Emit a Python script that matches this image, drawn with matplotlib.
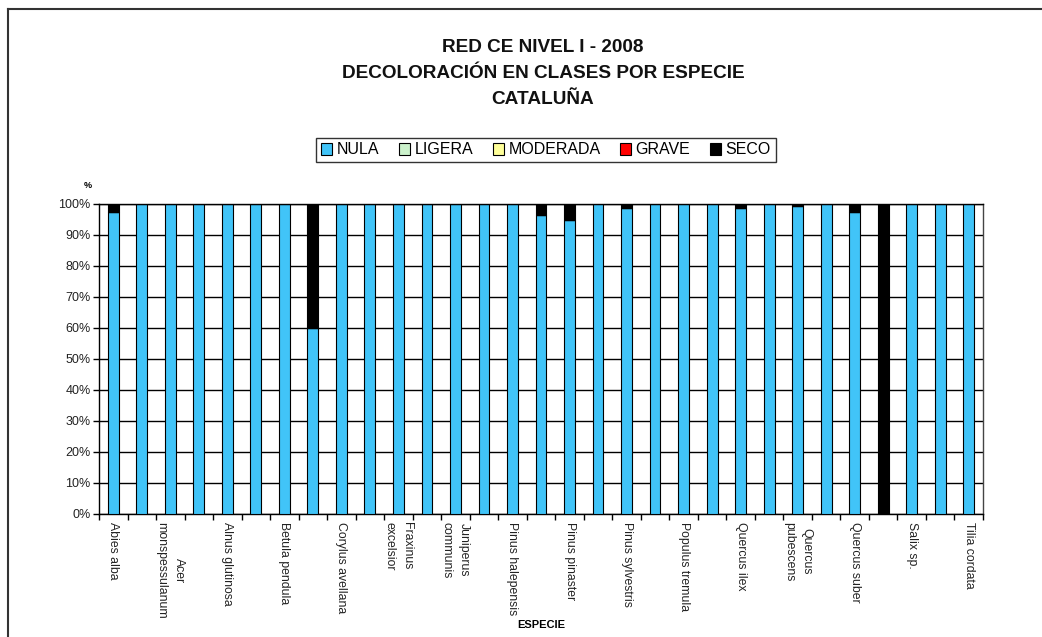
import matplotlib
matplotlib.use("Agg")
import matplotlib.pyplot as plt
import numpy as np
from matplotlib.lines import Line2D
from matplotlib.patches import Patch

plt.rcParams['font.family'] = ['Liberation Sans', 'DejaVu Sans']

# ---- data ----
categories = ["Abies alba", "", "Acer\nmonspessulanum", "", "Alnus glutinosa", "",
              "Betula pendula", "", "Corylus avellana", "", "Fraxinus\nexcelsior", "",
              "Juniperus\ncommunis", "", "Pinus halepensis", "", "Pinus pinaster", "",
              "Pinus sylvestris", "", "Populus tremula", "", "Quercus ilex", "",
              "Quercus\npubescens", "", "Quercus suber", "", "Salix sp.", "", "Tilia cordata"]
nula = [97.5, 100, 100, 100, 100, 100, 100, 60, 100, 100, 100, 100, 100, 100, 100, 96.3,
        94.9, 100, 98.6, 100, 100, 100, 98.6, 100, 99.4, 100, 97.5, 0, 100, 100, 100]
ligera = [0] * 31
moderada = [0] * 31
grave = [0] * 31
seco = [100 - v for v in nula]

series_names = ["NULA", "LIGERA", "MODERADA", "GRAVE", "SECO"]
series_colors = ["#41C4F8", "#CCF2CC", "#FFFF99", "#FF0000", "#000000"]
yticks = [0, 10, 20, 30, 40, 50, 60, 70, 80, 90, 100]
ytick_labels = [f"{v}%" for v in yticks]

title_lines = ["RED CE NIVEL I - 2008", "DECOLORACIÓN EN CLASES POR ESPECIE", "CATALUÑA"]

# ---- figure ----
W, H = 1042, 637
fig = plt.figure(figsize=(W / 100, H / 100), dpi=100)
fig.patch.set_facecolor("white")

def fx(px):
    return px / W

def fy(py):
    return 1 - py / H

ax = fig.add_axes([fx(99), fy(513.5), fx(983) - fx(99), fy(204) - fy(513.5)])

x = np.arange(len(categories))
bottom = np.zeros(len(categories))
for name, vals, col in zip(series_names, [nula, ligera, moderada, grave, seco], series_colors):
    vals = np.array(vals, dtype=float)
    ax.bar(x, vals, bottom=bottom, width=0.38, color=col, edgecolor="black",
           linewidth=0.8, zorder=3)
    bottom += vals

ax.set_xlim(-0.5, len(categories) - 0.5)
ax.set_ylim(0, 100)
ax.set_yticks(yticks)
ax.set_yticklabels(ytick_labels, fontsize=9, color="#222222")
ax.yaxis.grid(True, color="black", linewidth=1.0, zorder=0)
ax.set_axisbelow(True)
ax.tick_params(axis="y", direction="out", length=4, width=1, pad=2)

# category labels only for named ones
lab_pos = [i for i, c in enumerate(categories) if c]
ax.set_xticks(lab_pos)
ax.set_xticklabels([categories[i] for i in lab_pos], rotation=-90, fontsize=8.8,
                   color="#222222", va="top", ha="center", multialignment="center",
                   linespacing=1.6)
ax.tick_params(axis="x", which="major", length=0, pad=6)
ax.set_xticks(np.arange(-0.5, len(categories), 1.0), minor=True)
ax.tick_params(axis="x", which="minor", direction="out", length=4, width=1)

for s in ax.spines.values():
    s.set_color("black")
    s.set_linewidth(1.0)
ax.spines["right"].set_color("#444444")

# axis labels
fig.text(fx(88), fy(186), "%", fontsize=6.5, fontweight="bold", ha="center", va="center")
fig.text(fx(541), fy(625), "ESPECIE", fontsize=8, fontweight="bold", ha="center", va="center")

# title
for yy, t in zip([47, 73.5, 100], title_lines):
    fig.text(fx(543), fy(yy), t, fontsize=13.7, fontweight="bold", ha="center", va="center",
             color="#111111")

# legend
handles = [Patch(facecolor=c, edgecolor="black", linewidth=0.8) for c in series_colors]
leg = fig.legend(handles, series_names, loc="center", bbox_to_anchor=(fx(546), fy(150)),
                 ncol=5, frameon=True, fontsize=11.5, handlelength=0.7, handleheight=0.7,
                 handletextpad=0.3, columnspacing=1.2, borderpad=0.3, fancybox=False)
leg.get_frame().set_edgecolor("black")
leg.get_frame().set_linewidth(1.0)

# outer frame (partial, as in reference)
fig.add_artist(Line2D([fx(8), 1], [fy(9), fy(9)], color="#333333", linewidth=1.5,
                      transform=fig.transFigure))
fig.add_artist(Line2D([fx(8), fx(8)], [fy(9), 0], color="#333333", linewidth=1.5,
                      transform=fig.transFigure))

fig.savefig("out.png", dpi=100)
